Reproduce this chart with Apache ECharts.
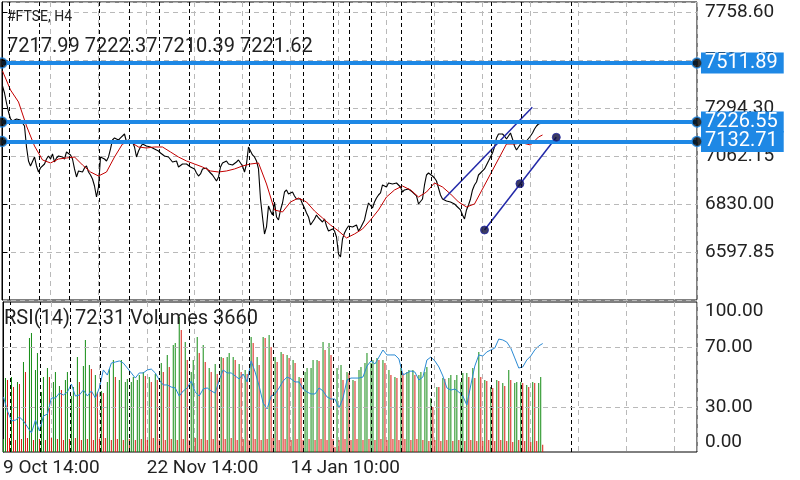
<!DOCTYPE html>
<html><head><meta charset="utf-8">
<script src="https://cdn.jsdelivr.net/npm/echarts@6/dist/echarts.min.js"></script>
<style>html,body{margin:0;padding:0;background:#fff}#c{width:800px;height:480px}</style>
</head><body><div id="c"></div>
<script>
// ---------- data ----------
const symbolName = '#FTSE, H4';
const ohlc = [7217.99, 7222.37, 7210.39, 7221.62];
const timeLabels = ['9 Oct 14:00', '22 Nov 14:00', '14 Jan 10:00'];
const timeLabelIdx = [0, 72, 144];
const priceTicks = [6597.85, 6830.00, 7062.15, 7294.30, 7526.45, 7758.60];
const priceMax = 7807.0;
const rsiTicks = [0, 30, 70, 100];
const rsiLevels = [30, 70];
const levelLines = [7511.89, 7226.55, 7132.71];
const separators = [3.2, 18.2, 33.2, 48.2, 63.2, 78.2, 93.2, 108.2, 123.2, 135.3, 150.3, 165.3, 173.2, 184.3, 199.3, 214.3, 229.3, 244.3, 259.3, 284.3];
const channelUpper = [[220.6, 6852.7], [264.9, 7297.7]];
const channelLower = [[241, 6704.3], [276.9, 7152.6]];
const channelDots = [[241, 6704.3], [258.7, 6928.2], [276.9, 7152.6]];

const close = [7400.7,7366.9,7318.5,7275.0,7241.2,7231.5,7226.6,7241.2,7236.3,7236.3,
 7236.3,7207.3,7105.7,7038.0,7013.9,7009.0,7057.4,7013.9,6984.8,7004.2,
 6999.4,7023.5,7047.7,7062.2,7047.7,7071.9,7033.2,7052.5,7062.2,7057.4,
 7057.4,7047.7,7081.6,7091.2,7067.1,7047.7,6999.4,6960.7,6989.7,6994.5,
 6984.8,7004.2,7013.9,6984.8,6970.3,6951.0,6917.1,6863.9,6912.3,7057.4,
 7052.5,7047.7,7038.0,7057.4,7096.1,7139.6,7149.3,7154.1,7139.6,7149.3,
 7158.9,7168.6,7129.9,7139.6,7139.6,7129.9,7105.7,7057.4,7086.4,7105.7,
 7120.3,7115.4,7110.6,7110.6,7105.7,7096.1,7096.1,7096.1,7086.4,7076.7,
 7067.1,7062.2,7057.4,7057.4,7052.5,7033.2,7033.2,7038.0,7009.0,6999.4,
 7023.5,7023.5,7023.5,7013.9,7009.0,7013.9,6999.4,6980.0,6965.5,6975.2,
 6999.4,7004.2,7004.2,6989.7,6980.0,6970.3,6955.8,6941.3,6960.7,7009.0,
 7028.4,7038.0,7038.0,7023.5,7013.9,7018.7,7023.5,7033.2,7042.9,7038.0,
 7013.9,6984.8,7023.5,7105.7,7096.1,7067.1,7057.4,7038.0,6999.4,6854.3,
 6767.2,6685.0,6718.9,6820.4,6796.2,6776.9,6839.8,6767.2,6752.7,6801.1,
 6834.9,6888.1,6897.8,6878.5,6888.1,6888.1,6868.8,6854.3,6854.3,6854.3,
 6830.1,6810.8,6786.6,6767.2,6728.5,6723.7,6757.6,6776.9,6762.4,6762.4,
 6743.0,6757.6,6723.7,6699.5,6689.9,6709.2,6699.5,6670.5,6588.3,6573.8,
 6660.8,6689.9,6709.2,6723.7,6723.7,6718.9,6723.7,6728.5,6699.5,6714.0,
 6709.2,6752.7,6796.2,6834.9,6834.9,6810.8,6839.8,6859.1,6873.6,6883.3,
 6922.0,6917.1,6912.3,6931.6,6922.0,6926.8,6931.6,6931.6,6922.0,6912.3,
 6888.1,6897.8,6902.6,6902.6,6897.8,6888.1,6878.5,6868.8,6830.1,6830.1,
 6854.3,6922.0,6970.3,6980.0,6980.0,6965.5,6955.8,6941.3,6907.5,6873.6,
 6854.3,6849.4,6844.6,6839.8,6839.8,6839.8,6830.1,6820.4,6815.6,6801.1,
 6776.9,6757.6,6801.1,6825.3,6854.3,6897.8,6922.0,6936.5,6970.3,6980.0,
 6975.2,6999.4,7018.7,7038.0,7057.4,7076.7,7105.7,7149.3,7168.6,7173.5,
 7168.6,7158.9,7144.4,7158.9,7173.5,7144.4,7110.6,7091.2,7091.2,7120.3,
 7139.6,7144.4,7134.8,7134.8,7158.9,7173.5,7192.8,7207.3,7217.0,7221.8,
 7221.62];

const maIdx = [0,4,8,12,16,20,24,28,32,36,40,44,48,52,56,60,64,68,72,76,80,84,88,92,96,100,104,108,112,116,120,124,128,132,136,140,144,148,152,156,160,164,168,172,176,180,184,188,192,196,200,204,208,212,216,220,224,228,232,236,240,244,248,252,256,260,264,268,270];
const maValues = [7473.3,7381.4,7323.4,7207.3,7110.6,7042.9,7028.4,7047.7,7052.5,7057.4,
 7018.7,6984.8,6965.5,6984.8,7057.4,7120.3,7129.9,7105.7,7100.9,7105.7,
 7105.7,7081.6,7057.4,7038.0,7023.5,7009.0,6989.7,6984.8,6989.7,6999.4,
 7013.9,7023.5,7028.4,6926.8,6801.1,6791.4,6839.8,6859.1,6839.8,6796.2,
 6762.4,6728.5,6699.5,6665.7,6685.0,6709.2,6752.7,6801.1,6863.9,6897.8,
 6917.1,6897.8,6863.9,6888.1,6931.6,6912.3,6878.5,6839.8,6815.6,6830.1,
 6902.6,6975.2,7047.7,7120.3,7120.3,7125.1,7115.4,7154.1,7163.8];

const rsiStep = 2;
const rsiValues = [36.7,27.3,20.7,21.3,23.3,20.7,16.7,12.7,21.3,14.0,
 24.0,25.3,36.0,36.0,39.3,38.0,40.0,45.3,37.3,38.0,
 41.3,37.3,40.7,36.0,42.7,54.7,51.3,59.3,60.0,60.7,
 59.3,56.0,52.7,49.3,52.7,52.7,54.7,55.3,52.7,48.0,
 44.7,44.7,43.3,42.7,37.3,40.7,42.7,47.3,40.0,37.3,
 42.0,42.7,40.7,39.3,48.0,54.7,52.7,52.7,50.7,48.7,
 52.0,46.7,60.7,53.3,44.0,32.7,28.7,37.3,38.7,42.7,
 47.3,50.0,48.7,46.7,46.7,42.0,40.0,38.7,38.7,42.7,
 40.7,36.7,35.3,35.3,29.3,36.0,48.0,49.3,49.3,49.3,
 50.0,57.3,60.7,58.7,63.3,68.0,64.7,64.7,64.7,62.0,
 51.3,52.7,54.0,53.3,48.0,50.0,61.3,63.3,60.7,56.7,
 50.7,42.7,41.3,42.0,40.0,37.3,31.3,44.7,57.3,64.7,
 64.0,66.7,68.0,69.3,75.3,74.7,73.3,69.3,62.7,56.0,
 56.7,61.3,64.0,68.0,70.7,72.31];

const volumes = [6500,37000,36000, 7000,37500,32500, 6000,35000,34000, 6500,45000,40000, 7000,57000,59500,
 6000,41000,49500, 6500,30000,37500, 6000,42000,37500, 7000,35000,40000, 6500,33000,31000,
 6000,36000,40000, 6500,28000,32500, 7000,47500,35000, 6000,43000,56000, 6500,43500,41500,
 6000,38500,30000, 6500,30500,29500, 7000,35000,41500, 6000,46000,37500, 6500,36000,46000,
 6000,35000,36500, 6500,35000,37500, 6000,36000,38500, 6500,40000,38000, 6000,37500,35000,
 7000,39000,36000, 6500,44500,40000, 6000,48500,42500, 6500,53500,54500, 6000,67500,61000,
 6500,55000,46000, 6000,40000,46000, 7000,57500,49500, 6500,53500,45000, 6000,42000,40000,
 6500,44000,39000, 6000,47500,47000, 6500,47500,49500, 7000,47500,46000, 6000,44000,40000,
 6500,41000,39000, 6000,57500,54500, 6500,47500,43500, 6000,57500,57000, 6500,58500,52500,
 7000,47500,45000, 6000,50000,49000, 6500,48500,47000, 6000,46000,44500, 6500,37500,37000,
 6000,40000,42000, 6500,42000,46000, 6000,46000,45500, 6500,55000,51000, 6000,54500,48500,
 6500,2500,42000, 6000,43500,36000, 6500,40000,39500, 6000,36000,35500, 6500,41000,42500,
 6000,44500,49500, 6500,44500,46000, 6000,47000,46000, 6500,46000,44500, 6000,41000,38500,
 6500,37500,37000, 6000,42000,39500, 6500,40000,41000, 6000,41000,38500, 6500,38500,40000,
 6000,40000,42500, 5500,27000,22500, 6000,32500,32500, 5500,37000,36500, 6000,37000,38500,
 5500,36000,38500, 6000,35000,39500, 5500,39500,37500, 6000,42000,37000, 5500,50000,37500,
 5500,36000,35500, 6000,32500,32000, 5500,36000,35500, 6000,34500,33000, 5500,41000,36000,
 5000,34500,35000, 6000,35000,34500, 5500,33500,32500, 5000,35000,34500, 5500,34500,37500,
 3660];

// ---------- chart ----------
const FONT = 'Roboto';
const BLUE = '#1e88e5';
const priceStep = priceTicks[1] - priceTicks[0];
const priceMin = priceTicks[0] - priceStep;
const xMin = -0.25;
const xMax = 347.25;

const closeData = close.map((v, i) => [i, v]);
const maData = maValues.map((v, k) => [maIdx[k], v]);
const rsiData = rsiValues.map((v, k) => [Math.min(k * rsiStep, close.length - 1), v]);
const volData = volumes.map((v, i) => ({
  value: [i, v],
  itemStyle: { color: (i === 0 || v > volumes[i - 1]) ? '#138c13' : '#d8180e' }
}));
const dotData = [];
levelLines.forEach(v => { dotData.push([xMin, v]); dotData.push([xMax, v]); });

const sepLine = {
  silent: true, symbol: 'none', label: { show: false },
  lineStyle: { color: '#000', type: [4, 3], width: 1 },
  data: separators.map(x => ({ xAxis: x }))
};
const grayDash = { color: '#b9b9b9', type: [5, 4], width: 1 };

const chart = echarts.init(document.getElementById('c'), null, { renderer: 'canvas' });
chart.setOption({
  animation: false,
  backgroundColor: '#fff',
  textStyle: { fontFamily: FONT },
  title: [
    { text: symbolName, left: 7, top: 10, padding: 0, textStyle: { fontFamily: FONT, fontSize: 14, fontWeight: 'normal', color: '#222' } },
    { text: ohlc.map(v => v.toFixed(2)).join(' '), left: 7, top: 37, padding: 0, textStyle: { fontFamily: FONT, fontSize: 20, fontWeight: 'normal', color: '#222' } },
    { text: 'RSI(14) ' + rsiValues[rsiValues.length - 1].toFixed(2) + ' Volumes ' + volumes[volumes.length - 1], left: 4, top: 309, padding: 0, textStyle: { fontFamily: FONT, fontSize: 20, fontWeight: 'normal', color: '#222' } }
  ],
  grid: [
    { left: 2, right: 103, top: 2, height: 298, show: true, borderColor: '#000', borderWidth: 1, backgroundColor: 'transparent' },
    { left: 2, right: 103, top: 302, height: 150, show: true, borderColor: '#000', borderWidth: 1, backgroundColor: 'transparent' }
  ],
  xAxis: [
    { gridIndex: 0, type: 'value', min: xMin, max: xMax, interval: 24,
      axisLine: { show: false }, axisTick: { show: false }, axisLabel: { show: false },
      splitLine: { show: true, lineStyle: grayDash } },
    { gridIndex: 1, type: 'value', min: xMin, max: xMax, interval: 24,
      axisLine: { show: false }, axisTick: { show: false },
      axisLabel: { show: true, align: 'left', margin: 7, fontSize: 19, color: '#222', fontFamily: FONT,
        showMaxLabel: false,
        formatter: v => { const k = timeLabelIdx.indexOf(Math.round(v)); return k >= 0 ? timeLabels[k] : ''; } },
      splitLine: { show: true, lineStyle: grayDash } }
  ],
  yAxis: [
    { gridIndex: 0, type: 'value', position: 'right', min: priceMin, max: priceMax, interval: priceStep,
      axisLine: { show: true, lineStyle: { color: '#000' } },
      axisTick: { show: true, length: 5, lineStyle: { color: '#000' } },
      axisLabel: { show: true, showMinLabel: false, margin: 8, fontSize: 19, color: '#222', fontFamily: FONT,
        formatter: v => v.toFixed(2) },
      splitLine: { show: true, lineStyle: grayDash } },
    { gridIndex: 1, type: 'value', position: 'right', min: 0, max: 100, interval: 10,
      axisLine: { show: true, lineStyle: { color: '#000' } },
      axisTick: { show: false },
      axisLabel: { show: true, margin: 8, fontSize: 19, color: '#222', fontFamily: FONT,
        verticalAlignMaxLabel: 'top', verticalAlignMinLabel: 'bottom',
        formatter: v => rsiTicks.indexOf(Math.round(v)) >= 0 && Math.abs(v - Math.round(v)) < 1e-6 ? v.toFixed(2) : '' },
      splitLine: { show: false } },
    { gridIndex: 1, type: 'value', min: 0, max: 75000, show: false, splitLine: { show: false } }
  ],
  series: [
    { type: 'bar', xAxisIndex: 1, yAxisIndex: 2, data: volData, barWidth: 1, silent: true, z: 1,
      markLine: sepLine },
    { type: 'line', xAxisIndex: 1, yAxisIndex: 1, data: rsiData, symbol: 'none', silent: true, z: 3,
      lineStyle: { color: '#2a8ad4', width: 1 },
      markLine: { silent: true, symbol: 'none', label: { show: false }, lineStyle: grayDash,
        data: rsiLevels.map(v => ({ yAxis: v })) } },
    { type: 'line', xAxisIndex: 0, yAxisIndex: 0, data: closeData, symbol: 'none', silent: true, z: 3,
      lineStyle: { color: '#000', width: 1.1 }, markLine: sepLine },
    { type: 'line', xAxisIndex: 0, yAxisIndex: 0, data: maData, symbol: 'none', silent: true, z: 3,
      lineStyle: { color: '#c40000', width: 1 } },
    { type: 'line', xAxisIndex: 0, yAxisIndex: 0, data: channelUpper, symbol: 'none', silent: true, z: 4,
      lineStyle: { color: '#2228a8', width: 1.5 } },
    { type: 'line', xAxisIndex: 0, yAxisIndex: 0, data: channelLower, symbol: 'none', silent: true, z: 4, clip: false,
      lineStyle: { color: '#2228a8', width: 1.5 } },
    { type: 'scatter', xAxisIndex: 0, yAxisIndex: 0, data: channelDots, symbolSize: 8, silent: true, z: 5, clip: false,
      itemStyle: { color: '#0b0b3a', borderColor: '#2228a8', borderWidth: 1 } },
    { type: 'line', xAxisIndex: 0, yAxisIndex: 0, data: [], silent: true, z: 6,
      markLine: { silent: true, symbol: 'none',
        lineStyle: { color: BLUE, width: 4, type: 'solid' },
        label: { show: true, position: 'end', distance: 4, formatter: p => p.value.toFixed(2),
          color: '#fff', backgroundColor: BLUE, fontSize: 20, fontFamily: FONT, padding: [1, 6, 0, 4] },
        data: levelLines.map(v => ({ yAxis: v })) } },
    { type: 'scatter', xAxisIndex: 0, yAxisIndex: 0, data: dotData, symbolSize: 10, silent: true, z: 7, clip: false,
      itemStyle: { color: '#000', borderColor: BLUE, borderWidth: 1.5 } }
  ]
});
</script></body></html>
